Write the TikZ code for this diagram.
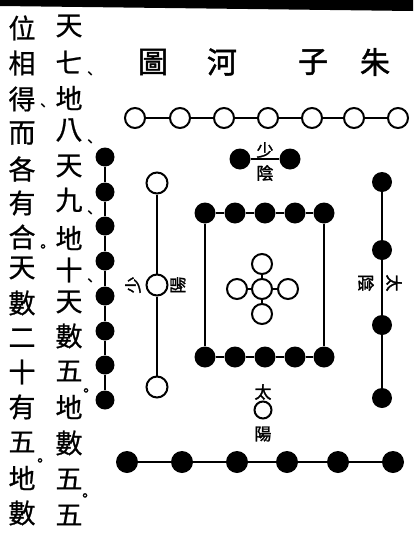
\documentclass[tikz,border=0pt]{standalone}
\usepackage{fontspec}
\newfontfamily\cjk[FakeBold=0.8]{Noto Sans CJK TC}
\newfontfamily\cjkbold[FakeBold=1.6]{Noto Sans CJK TC}
\usetikzlibrary{positioning}

\tikzset{
  yang/.style={circle,draw,line width=2pt,fill=white,minimum size=20pt,inner sep=0pt},
  yin/.style={circle,fill=black,minimum size=21pt,inner sep=0pt},
  link/.style={line width=2pt},
  thinlink/.style={line width=1.3pt},
  zi/.style={font=\cjk\fontsize{27pt}{27pt}\selectfont,inner sep=0pt},
  punct/.style={font=\cjkbold\fontsize{14pt}{14pt}\selectfont,inner sep=0pt},
  titlezi/.style={font=\cjkbold\fontsize{30pt}{30pt}\selectfont,inner sep=0pt},
  lab/.style={font=\cjkbold\fontsize{17pt}{17pt}\selectfont,inner sep=0pt}
}

\begin{document}
\begin{tikzpicture}[x=1pt,y=-1pt]
\useasboundingbox[fill=white] (0,0) rectangle (413,536);
% top rule of the page
\fill[black] (0,0) -- (413,0) -- (413,11) -- (0,6) -- cycle;

% text, right column
\node[zi] (ra) at (69,26) {天};
\node[zi] (rb) at (69,62) {七};
\node[punct] (rbp) at (90,75) {、};
\node[zi] (rc) at (69,98) {地};
\node[zi] (rd) at (69,130) {八};
\node[punct] (rdp) at (90,143) {、};
\node[zi] (re) at (69,166) {天};
\node[zi] (rf) at (69,200) {九};
\node[punct] (rfp) at (90,214) {、};
\node[zi] (rg) at (69,238) {地};
\node[zi] (rh) at (69,270) {十};
\node[punct] (rhp) at (90,282) {、};
\node[zi] (ri) at (69,302) {天};
\node[zi] (rj) at (69,336) {數};
\node[zi] (rk) at (69,371) {五};
\node[punct] (rkp) at (86,392) {。};
\node[zi] (rl) at (69,407) {地};
\node[zi] (rm) at (69,443) {數};
\node[zi] (rn) at (69,479) {五};
\node[punct] (rnp) at (85,497) {。};
\node[zi] (ro) at (69,515) {五};

% text, left column
\node[zi] (la) at (22,28) {位};
\node[zi] (lb) at (22,63) {相};
\node[zi] (lc) at (22,99) {得};
\node[punct] (lcp) at (43,107) {、};
\node[zi] (ld) at (22,133) {而};
\node[zi] (le) at (22,169) {各};
\node[zi] (lf) at (22,203) {有};
\node[zi] (lg) at (22,237) {合};
\node[punct] (lgp) at (43,248) {。};
\node[zi] (lh) at (22,268) {天};
\node[zi] (li) at (22,303) {數};
\node[zi] (lj) at (22,338) {二};
\node[zi] (lk) at (22,372) {十};
\node[zi] (ll) at (22,407) {有};
\node[zi] (lm) at (22,442) {五};
\node[punct] (lmp) at (40,462) {。};
\node[zi] (ln) at (22,478) {地};
\node[zi] (lo) at (22,513) {數};

% title
\node[titlezi] (tu) at (153,62) {圖};
\node[titlezi] (he) at (222,62) {河};
\node[titlezi] (zi) at (313,62) {子};
\node[titlezi] (zhu) at (375,62) {朱};

% top row, seven
\node[yang] (h1) at (135,118) {};
\node[yang] (h2) at (180,118) {};
\node[yang] (h3) at (224,118) {};
\node[yang] (h4) at (268,118) {};
\node[yang] (h5) at (312,118) {};
\node[yang] (h6) at (354,118) {};
\node[yang] (h7) at (398,118) {};
\draw[link] (h1) -- (h2);
\draw[link] (h2) -- (h3);
\draw[link] (h3) -- (h4);
\draw[link] (h4) -- (h5);
\draw[link] (h5) -- (h6);
\draw[link] (h6) -- (h7);

% shao yin, two
\node[yin] (s1) at (240,159) {};
\node[yin] (s2) at (290,159) {};
\draw[link] (s1) -- (s2);
\node[lab] (shao) at (265,150) {少};
\node[lab] (yina) at (265,173) {陰};

% inner square, ten
\node[yin] (q1) at (205,213) {};
\node[yin] (q2) at (235,213) {};
\node[yin] (q3) at (265,213) {};
\node[yin] (q4) at (295,213) {};
\node[yin] (q5) at (324,213) {};
\node[yin] (p1) at (205,357) {};
\node[yin] (p2) at (235,357) {};
\node[yin] (p3) at (265,357) {};
\node[yin] (p4) at (295,357) {};
\node[yin] (p5) at (324,357) {};
\draw[link] (q1) -- (q2);
\draw[link] (q2) -- (q3);
\draw[link] (q3) -- (q4);
\draw[link] (q4) -- (q5);
\draw[link] (p1) -- (p2);
\draw[link] (p2) -- (p3);
\draw[link] (p3) -- (p4);
\draw[link] (p4) -- (p5);
\draw[thinlink] (q1) -- (p1);
\draw[thinlink] (q5) -- (p5);

% centre, five
\node[yang] (c0) at (262,289) {};
\node[yang] (c1) at (262,264) {};
\node[yang] (c2) at (237,289) {};
\node[yang] (c3) at (288,289) {};
\node[yang] (c4) at (262,314) {};
\draw[link] (c0) -- (c1);
\draw[link] (c0) -- (c2);
\draw[link] (c0) -- (c3);
\draw[link] (c0) -- (c4);

% left column, eight
\node[yin,minimum size=19pt] (k1) at (105,157) {};
\node[yin,minimum size=19pt] (k2) at (105,192) {};
\node[yin,minimum size=19pt] (k3) at (105,226) {};
\node[yin,minimum size=19pt] (k4) at (105,261) {};
\node[yin,minimum size=19pt] (k5) at (105,296) {};
\node[yin,minimum size=19pt] (k6) at (105,331) {};
\node[yin,minimum size=19pt] (k7) at (105,365) {};
\node[yin,minimum size=19pt] (k8) at (105,400) {};
\draw[link] (k1) -- (k2);
\draw[link] (k2) -- (k3);
\draw[link] (k3) -- (k4);
\draw[link] (k4) -- (k5);
\draw[link] (k5) -- (k6);
\draw[link] (k6) -- (k7);
\draw[link] (k7) -- (k8);

% shao yang, three
\node[yang,minimum size=21pt] (w1) at (157,183) {};
\node[yang,minimum size=21pt] (w2) at (157,285) {};
\node[yang,minimum size=21pt] (w3) at (157,387) {};
\draw[thinlink] (w1) -- (w2);
\draw[thinlink] (w2) -- (w3);
\node[lab,rotate=90] (shaob) at (133,285) {少};
\node[lab,rotate=90] (yangb) at (178,285) {陽};

% tai yin, four
\node[yin,minimum size=20pt] (r1) at (382,182) {};
\node[yin,minimum size=20pt] (r2) at (382,250) {};
\node[yin,minimum size=20pt] (r3) at (382,325) {};
\node[yin,minimum size=20pt] (r4) at (382,398) {};
\draw[link] (r1) -- (r2);
\draw[link] (r2) -- (r3);
\draw[link] (r3) -- (r4);
\node[lab,rotate=-90] (taic) at (394,283) {太};
\node[lab,rotate=-90] (yinc) at (366,283) {陰};

% tai yang, one
\node[lab] (taid) at (263,392) {太};
\node[yang,minimum size=17pt] (b0) at (263,410) {};
\node[lab] (yangd) at (263,434) {陽};

% bottom row, six
\node[yin,minimum size=22pt] (d1) at (127,462) {};
\node[yin,minimum size=22pt] (d2) at (182,462) {};
\node[yin,minimum size=22pt] (d3) at (237,462) {};
\node[yin,minimum size=22pt] (d4) at (287,462) {};
\node[yin,minimum size=22pt] (d5) at (338,462) {};
\node[yin,minimum size=22pt] (d6) at (393,462) {};
\draw[link] (d1) -- (d2);
\draw[link] (d2) -- (d3);
\draw[link] (d3) -- (d4);
\draw[link] (d4) -- (d5);
\draw[link] (d5) -- (d6);
\end{tikzpicture}
\end{document}
